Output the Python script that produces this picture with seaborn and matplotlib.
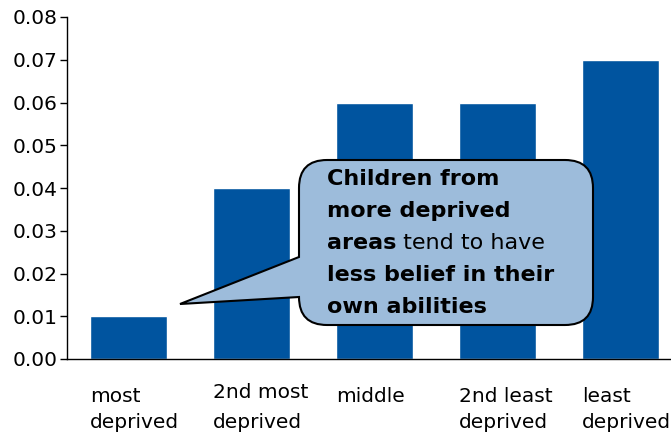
import matplotlib
matplotlib.use("Agg")
import matplotlib.pyplot as plt
import matplotlib.transforms as mtransforms
from matplotlib.path import Path
from matplotlib.patches import PathPatch
import seaborn as sns
import pandas as pd

# ---- data ----
categories = ["most deprived", "2nd most deprived", "middle", "2nd least deprived", "least deprived"]
values = [0.01, 0.04, 0.06, 0.06, 0.07]
label_line1 = ["most", "2nd most", "middle", "2nd least", "least"]
label_line2 = ["deprived", "deprived", "", "deprived", "deprived"]
yticks = [0.00, 0.01, 0.02, 0.03, 0.04, 0.05, 0.06, 0.07, 0.08]

# ---- style ----
sns.set_style("ticks")
plt.rcParams["font.family"] = ["DejaVu Sans"]
plt.rcParams["text.color"] = "black"
plt.rcParams["ytick.color"] = "black"
plt.rcParams["ytick.labelcolor"] = "black"
BAR = "#00549F"
W, H = 671, 434

fig = plt.figure(figsize=(W / 100, H / 100), dpi=100)
ax = fig.add_axes([67 / W, (H - 359) / H, (682 - 67) / W, (359 - 17) / H])

df = pd.DataFrame({"cat": categories, "val": values})
bw = 0.62
sns.barplot(data=df, x="cat", y="val", color=BAR, saturation=1, width=bw, ax=ax)

ax.set_xlim(-0.5, 4.5)
ax.set_ylim(0, 0.08)
ax.set_yticks(yticks)
ax.set_yticklabels([f"{v:.2f}" for v in yticks], fontsize=14.5, color="black")
ax.tick_params(axis="y", length=5, width=1, color="black", pad=1.5)
ax.tick_params(axis="x", length=0)
ax.set_xticklabels([])
ax.set_xlabel("")
ax.set_ylabel("")
for s in ["top", "right"]:
    ax.spines[s].set_visible(False)
for s in ["left", "bottom"]:
    ax.spines[s].set_color("black")
    ax.spines[s].set_linewidth(1.0)

# pixel transform (origin top-left)
pix = mtransforms.Affine2D().scale(1 / W, -1 / H).translate(0, 1) + fig.transFigure
# blended: x in data, y in pixels
blend = mtransforms.blended_transform_factory(ax.transData, pix)

line1_base = [402, 398, 402, 402, 402]
line2_base = [428, 428, 428, 428, 428]
for i in range(len(categories)):
    x = i - bw / 2
    ax.text(x, line1_base[i], label_line1[i], transform=blend, fontsize=14.5,
            ha="left", va="baseline", clip_on=False, color="black")
    if label_line2[i]:
        ax.text(x, line2_base[i], label_line2[i], transform=blend, fontsize=14.5,
                ha="left", va="baseline", clip_on=False, color="black")

# ---- callout ----
x0, x1, y0, y1, r = 299, 593, 160, 325, 28
tip = (180, 304)
b_top, b_bot = 257, 297
verts = [
    (x0, y0 + r), (x0, b_top), tip, (x0, b_bot), (x0, y1 - r),
    (x0, y1), (x0 + r, y1),
    (x1 - r, y1),
    (x1, y1), (x1, y1 - r),
    (x1, y0 + r),
    (x1, y0), (x1 - r, y0),
    (x0 + r, y0),
    (x0, y0), (x0, y0 + r),
    (x0, y0 + r),
]
codes = [Path.MOVETO, Path.LINETO, Path.LINETO, Path.LINETO, Path.LINETO,
         Path.CURVE3, Path.CURVE3,
         Path.LINETO,
         Path.CURVE3, Path.CURVE3,
         Path.LINETO,
         Path.CURVE3, Path.CURVE3,
         Path.LINETO,
         Path.CURVE3, Path.CURVE3,
         Path.CLOSEPOLY]
patch = PathPatch(Path(verts, codes), facecolor="#9DBCDB", edgecolor="black",
                  lw=1.5, transform=pix, zorder=5, clip_on=False)
fig.add_artist(patch)

tx = 327
fs = 16
baselines = [185, 217, 249, 281, 313]
kw = dict(fontsize=fs, va="baseline", zorder=6, color="black")
fig.text(tx / W, 1 - baselines[0] / H, "Children from", fontweight="bold", **kw)
fig.text(tx / W, 1 - baselines[1] / H, "more deprived", fontweight="bold", **kw)
t3 = fig.text(tx / W, 1 - baselines[2] / H, "areas", fontweight="bold", **kw)
fig.canvas.draw()
bb = t3.get_window_extent()
fig.text(bb.x1 / W, 1 - baselines[2] / H, " tend to have", **kw)
fig.text(tx / W, 1 - baselines[3] / H, "less belief in their", fontweight="bold", **kw)
fig.text(tx / W, 1 - baselines[4] / H, "own abilities", fontweight="bold", **kw)

fig.savefig("out.png", dpi=100)
